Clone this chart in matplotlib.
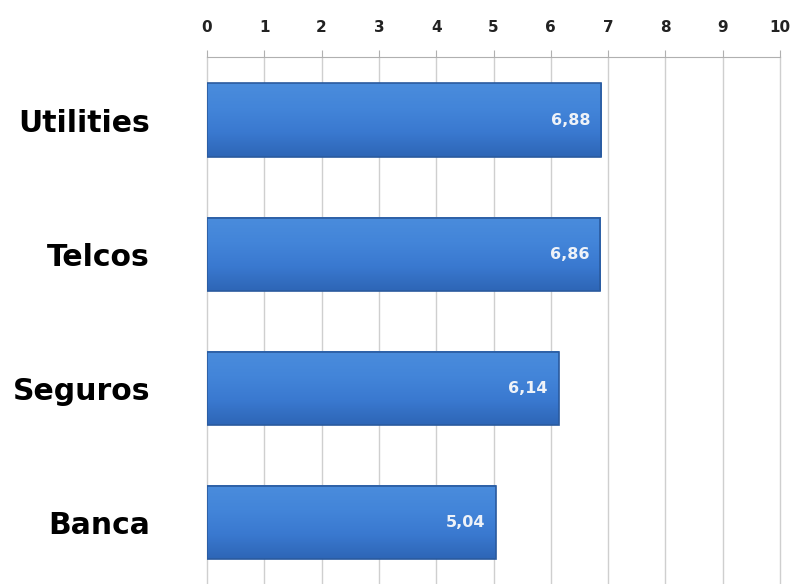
import matplotlib.pyplot as plt
import numpy as np

# datos
sectores = ['Banca', 'Seguros', 'Telcos', 'Utilities']
valores = [5.04, 6.14, 6.86, 6.88]
etiquetas = ['5,04', '6,14', '6,86', '6,88']
ticks = list(range(0, 11))

fig = plt.figure(figsize=(8.01, 5.84), dpi=100)
ax = fig.add_axes([207/801, 0.0, (780-207)/801, 1-57/584])

pos = np.arange(len(sectores))
alto = 0.545

# barras con degradado vertical
grad = np.linspace(0, 1, 64).reshape(-1, 1)
cmap = plt.matplotlib.colors.LinearSegmentedColormap.from_list(
    'azul', ['#2e66b6', '#3a79d0', '#4385d9', '#4a8cdc'])
for y, v, t in zip(pos, valores, etiquetas):
    ax.imshow(grad, cmap=cmap, aspect='auto', origin='lower',
              extent=[0, v, y - alto/2, y + alto/2], zorder=2)
    ax.add_patch(plt.Rectangle((0, y - alto/2), v, alto, fill=False,
                               edgecolor='#2a5a9e', lw=1.2, zorder=3))
    ax.text(v - 0.19, y, t, color='#eef2f8', ha='right', va='center',
            fontsize=11.5, fontweight='bold', family='DejaVu Sans', zorder=4)

ax.set_xlim(0, 10)
ax.set_ylim(-0.46, 3.47)
ax.xaxis.tick_top()
ax.set_xticks(ticks)
ax.set_xticklabels([str(t) for t in ticks], fontsize=11, fontweight='bold',
                   family='DejaVu Sans', color='#222222')
ax.tick_params(axis='x', length=5, color='#b0b0b0', pad=11)
ax.set_yticks(pos)
ax.set_yticklabels(sectores, fontsize=21.5, fontweight='bold', family='DejaVu Sans')
ax.tick_params(axis='y', length=0, pad=41)
ax.grid(axis='x', color='#cfcfcf', lw=1, zorder=0)
for l in ax.get_xgridlines():
    l.set_clip_on(False)
for s in ['left', 'right', 'bottom']:
    ax.spines[s].set_visible(False)
ax.spines['top'].set_color('#b0b0b0')

fig.savefig('out.png', dpi=100)
